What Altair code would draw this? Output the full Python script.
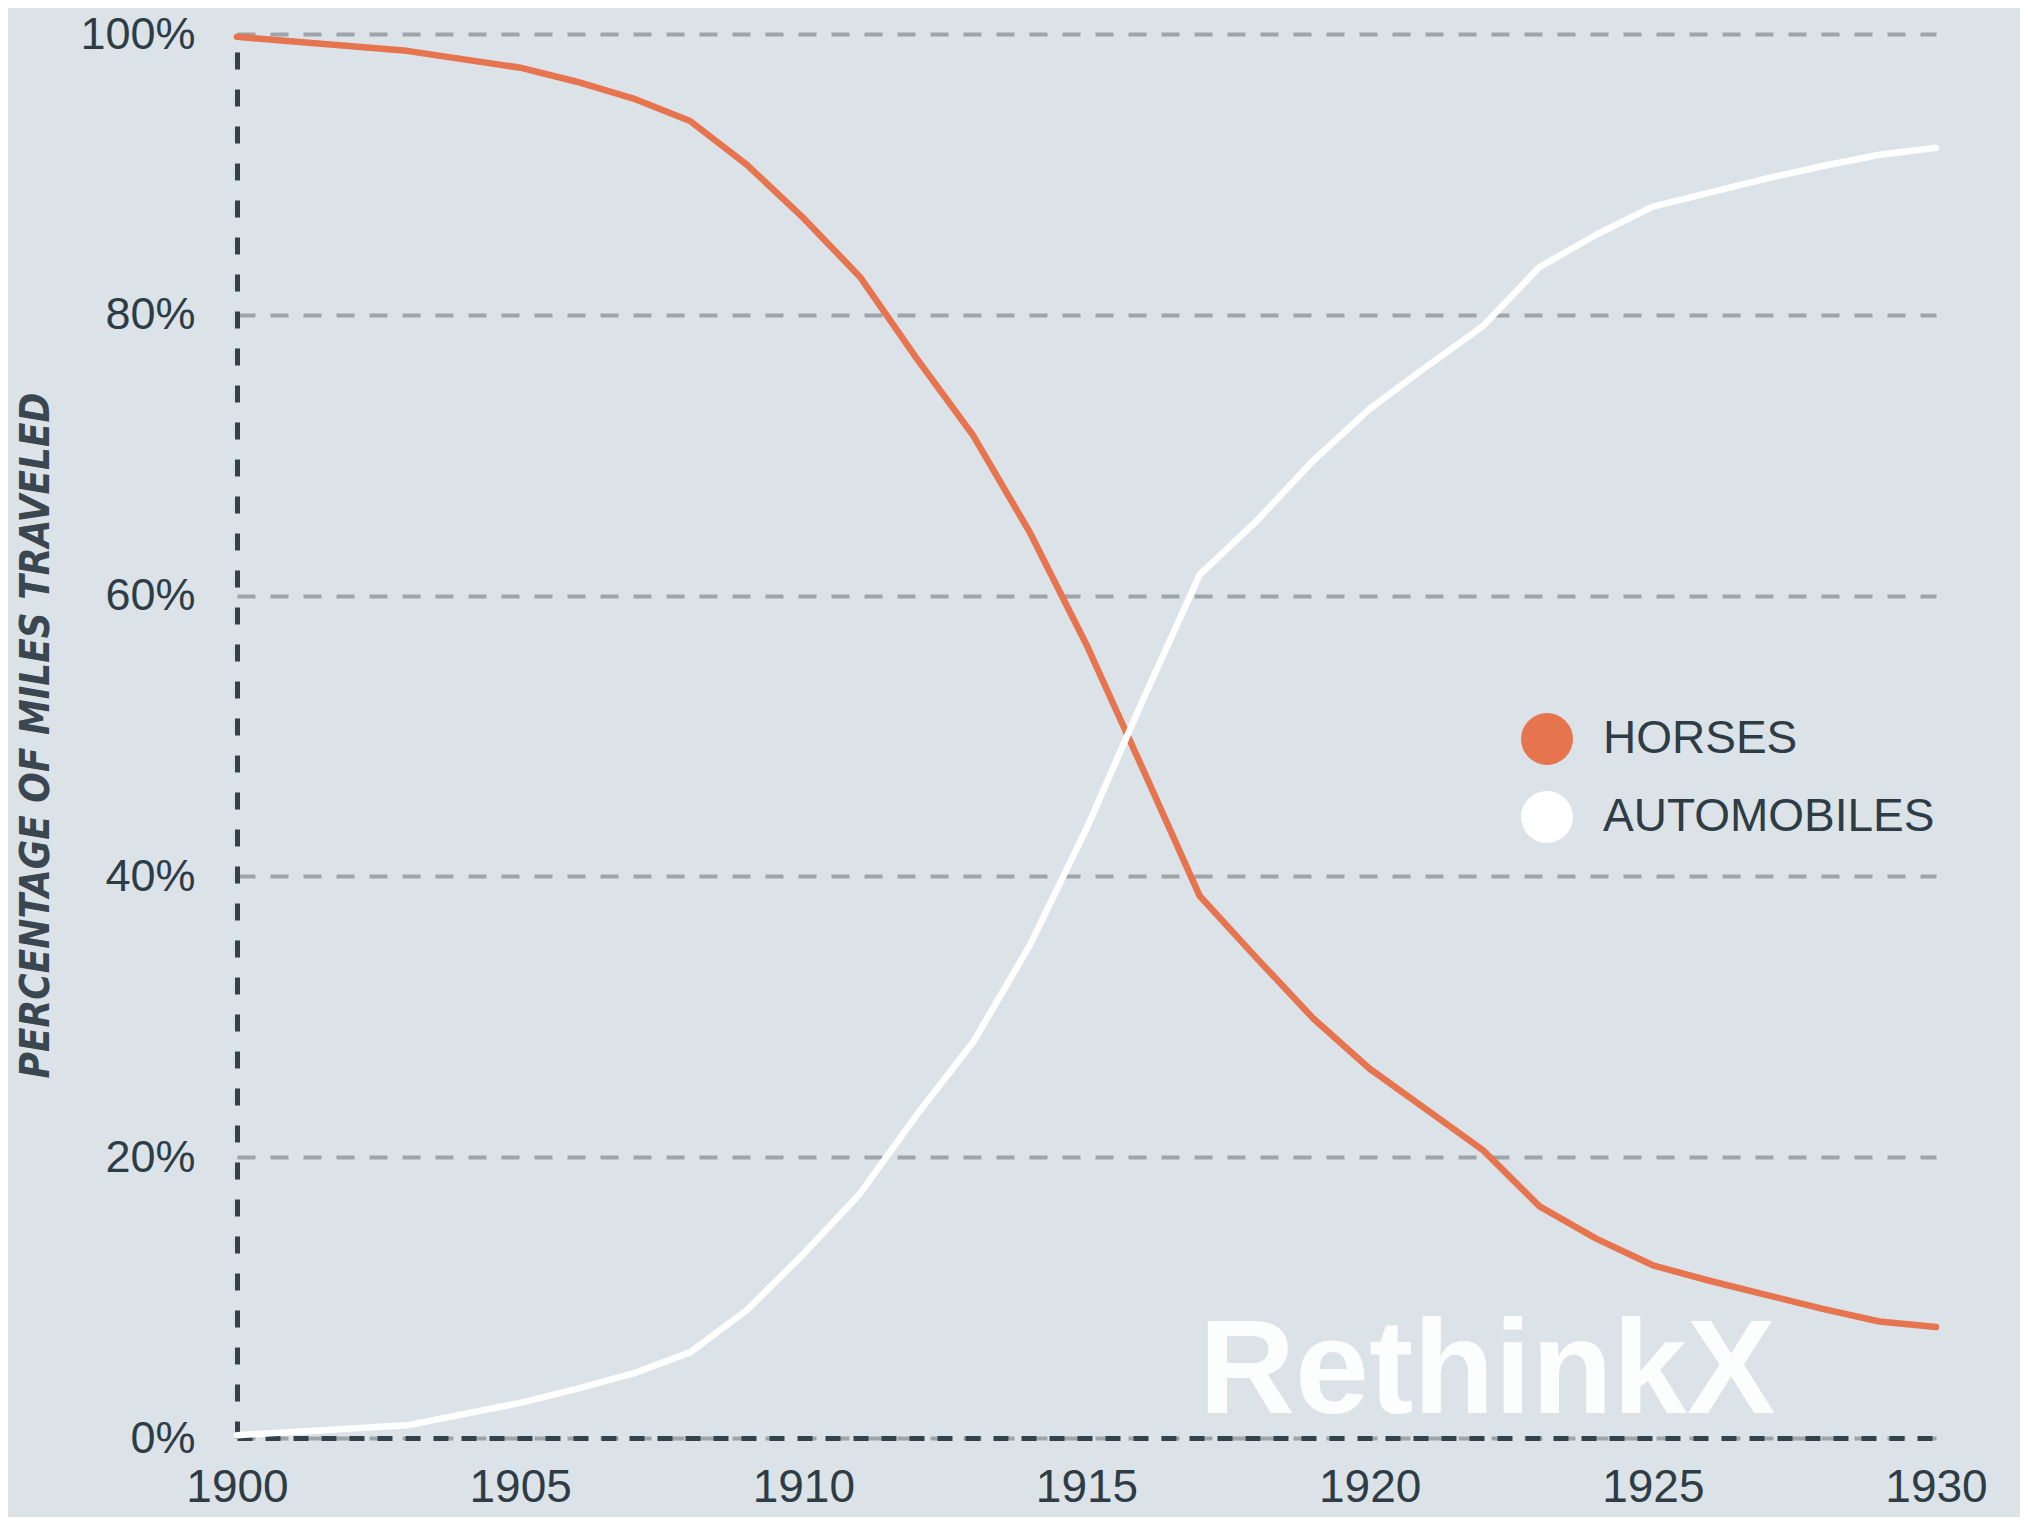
import altair as alt
import pandas as pd

years = [1900, 1903, 1905, 1906, 1907, 1908, 1909, 1910, 1911, 1912, 1913, 1914,
         1915, 1916, 1917, 1918, 1919, 1920, 1921, 1922, 1923, 1924, 1925, 1926,
         1927, 1928, 1929, 1930]
horses = [99.8, 98.8, 97.6, 96.6, 95.4, 93.8, 90.7, 86.9, 82.7, 76.9, 71.4, 64.5,
          56.5, 47.6, 38.6, 34.2, 29.9, 26.3, 23.4, 20.5, 16.5, 14.2, 12.3, 11.2,
          10.2, 9.2, 8.3, 7.9]
automobiles = [0.2, 0.9, 2.5, 3.5, 4.6, 6.1, 9.1, 13.1, 17.4, 23.0, 28.2, 35.1,
               43.4, 52.6, 61.5, 65.3, 69.6, 73.3, 76.3, 79.2, 83.4, 85.7, 87.7,
               88.7, 89.7, 90.6, 91.4, 91.9]
series = ["HORSES", "AUTOMOBILES"]
colors = ["#e6744f", "#ffffff"]
y_ticks = [0, 20, 40, 60, 80, 100]
x_ticks = [1900, 1905, 1910, 1915, 1920, 1925, 1930]

rows = []
for yr, h, a in zip(years, horses, automobiles):
    rows.append({"year": yr, "series": series[0], "value": h})
    rows.append({"year": yr, "series": series[1], "value": a})
df = pd.DataFrame(rows)

TEXT = "#2e3c45"
FONT = "Liberation Sans"

x_enc = alt.X("year:Q", scale=alt.Scale(domain=[1900, 1930], nice=False, zero=False),
              axis=alt.Axis(values=x_ticks, format="d", title=None, grid=False,
                            ticks=False, labelPadding=27, labelFontSize=46,
                            labelFont=FONT, labelColor=TEXT,
                            domainColor="#33414a", domainWidth=5, domainDash=[15, 13],
                            labelFlush=False))
y_enc = alt.Y("value:Q", scale=alt.Scale(domain=[0, 100], nice=False),
              axis=alt.Axis(values=y_ticks, labelExpr="datum.value + '%'",
                            title="PERCENTAGE OF MILES TRAVELED",
                            titleFont="DejaVu Sans Condensed", titleFontSize=40,
                            titleFontWeight="bold", titleFontStyle="italic",
                            titleColor="#3a4750", titleAngle=270, titleX=-201,
                            titleY=701, titleAlign="center", titleBaseline="middle",
                            ticks=False, labelPadding=42, labelFontSize=45,
                            labelFont=FONT, labelColor=TEXT, labelBaseline="middle",
                            grid=True, gridColor="#9ea5a9", gridWidth=4,
                            gridDash=[18, 15],
                            domainColor="#33414a", domainWidth=5, domainDash=[17, 20]))
color_scale = alt.Scale(domain=series, range=colors)

legend_pts = alt.Chart(df).mark_circle(opacity=0, size=10).encode(
    x=x_enc, y=y_enc,
    color=alt.Color("series:N", scale=color_scale, sort=series,
                    legend=alt.Legend(title=None, orient="none", legendX=1284,
                                      legendY=679, symbolType="circle",
                                      symbolSize=2700, symbolOpacity=1,
                                      symbolStrokeWidth=0, labelLimit=0,
                                      labelFontSize=46, labelFont=FONT,
                                      labelColor=TEXT, labelOffset=30,
                                      rowPadding=26, padding=0)),
)

watermark = alt.Chart(pd.DataFrame({"t": ["RethinkX"]})).mark_text(
    text="RethinkX", align="left", baseline="alphabetic", fontSize=133,
    fontWeight="bold", font=FONT, color="#ffffff", opacity=0.93
).encode(x=alt.value(962), y=alt.value(1379))

lines = alt.Chart(df).mark_line(strokeWidth=6.5, strokeCap="round", strokeJoin="round").encode(
    x=x_enc, y=y_enc,
    color=alt.Color("series:N", scale=color_scale, sort=series, legend=None),
    detail="series:N",
)

chart = alt.layer(legend_pts, watermark, lines).properties(
    width=1699, height=1404,
    autosize=alt.AutoSizeParams(type="none"),
    padding={"left": 229, "top": 26, "right": 84, "bottom": 79},
    background="#dce3e8",
).configure_view(stroke=None, fill="#dce3e8")

chart.save("out.html", embed_options={"renderer": "svg", "actions": False})
